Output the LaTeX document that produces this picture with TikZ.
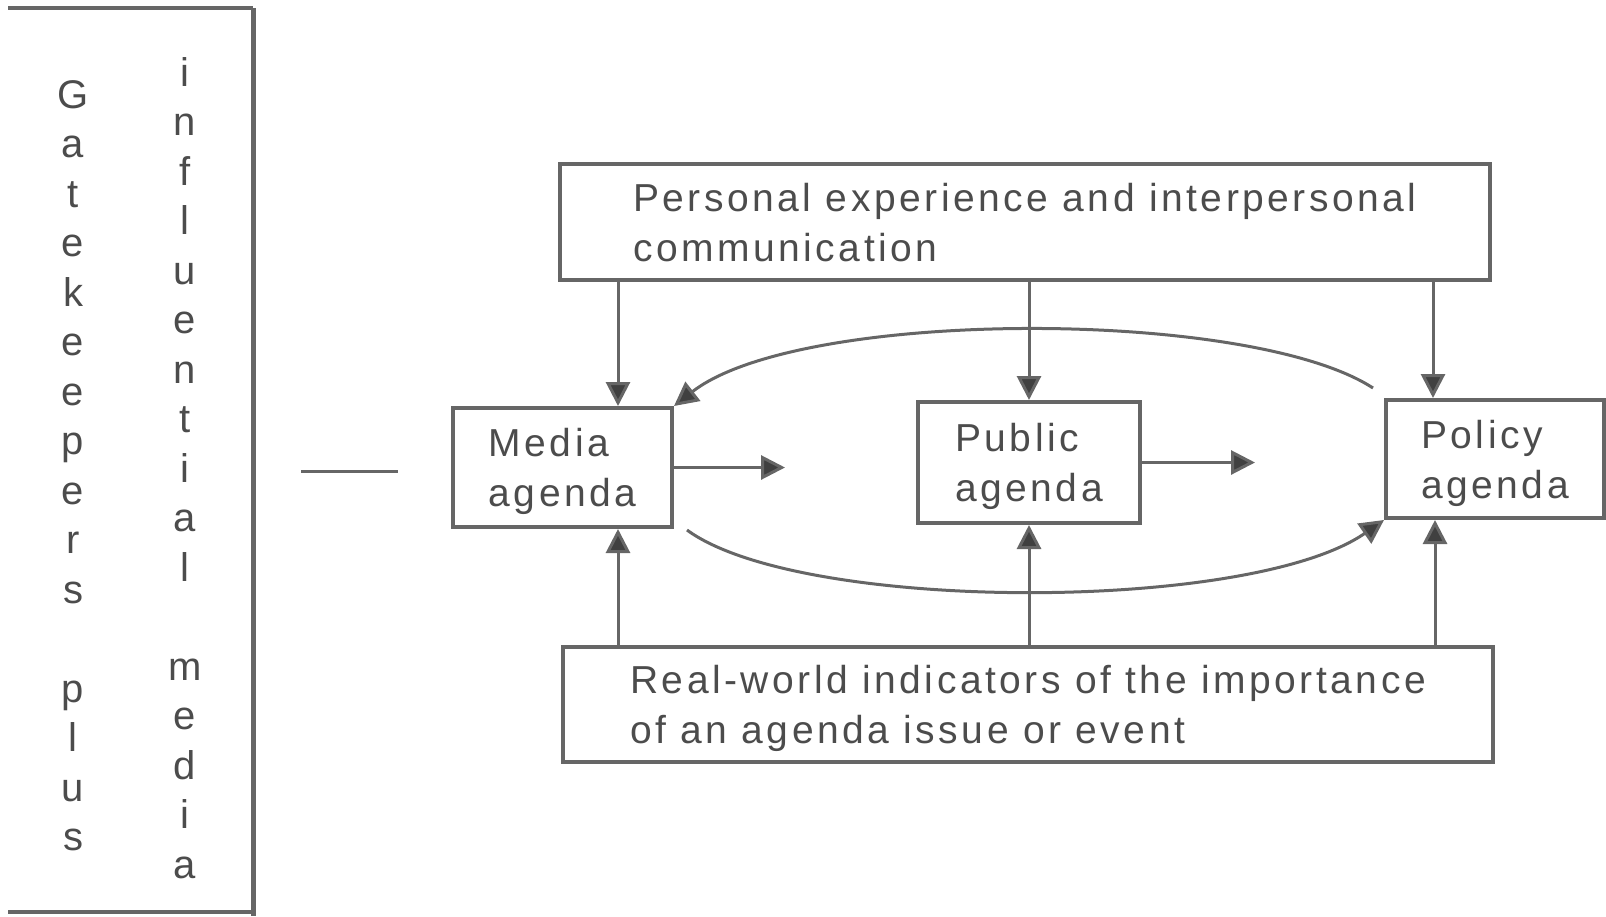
\documentclass[tikz,border=0pt]{standalone}
\usepackage{fontspec}
\setmainfont{Liberation Sans}[LetterSpace = 9]
\usepackage{tikz}
\usetikzlibrary{arrows.meta}

\begin{document}
\begin{tikzpicture}[x = 0.5pt, y = -0.5pt, line width = 1.5pt, draw = black!60, text = black!70,
  > = {Triangle[length = 12pt, width = 12pt, fill = black!75]},
  agendabox/.style = {draw, line width = 2pt, align = left, inner sep = 0, text depth = 0pt, font = \fontsize{19.5}{25}\selectfont},
  letters/.style = {anchor = north, align = center, inner sep = 0, font = \fontsize{20}{24.75}\selectfont}]
\useasboundingbox (0,0) rectangle (1606,916);
% side panel
\draw[line width = 2pt] (8,8) -- (253,8);
\draw[line width = 2.5pt] (253,8) -- (253,916);
\draw[line width = 2pt] (8,912) -- (253,912);
\node[letters] (gate) at (73,79) {G\\a\\t\\e\\k\\e\\e\\p\\e\\r\\s\\[24.75pt]p\\l\\u\\s};
\node[letters] (infl) at (185,56) {i\\n\\f\\l\\u\\e\\n\\t\\i\\a\\l\\[24.75pt]m\\e\\d\\i\\a};
\draw (301,471) -- (398,471);
% boxes
\node[agendabox, minimum width = 465pt, minimum height = 58pt] (personal) at (1025,222) {Personal experience and interpersonal\\communication};
\node[agendabox, minimum width = 465pt, minimum height = 57.5pt] (realworld) at (1028,704.5) {Real-world indicators of the importance\\of an agenda issue or event};
\node[agendabox, minimum width = 109.5pt, minimum height = 59.5pt] (media) at (562.5,467.5) {Media\\agenda};
\node[agendabox, minimum width = 111pt, minimum height = 60.5pt] (public) at (1029,462.5) {Public\\agenda};
\node[agendabox, minimum width = 109pt, minimum height = 59pt] (policy) at (1495,459) {Policy\\agenda};
% arrows
\draw [->] (personal.south -| 618,0) -- (media.north -| 618,0);
\draw [->] (personal.south -| 1029,0) -- (public.north -| 1029,0);
\draw [->] (personal.south -| 1433,0) -- (policy.north -| 1433,0);
\draw [->] (realworld.north -| 618,0) -- (media.south -| 618,0);
\draw [->] (realworld.north -| 1029,0) -- (public.south -| 1029,0);
\draw [->] (realworld.north -| 1435,0) -- (policy.south -| 1435,0);
\coordinate (mediaout) at (785,467.5);
\coordinate (publicout) at (1255,462.5);
\draw [->] (media.east) -- (mediaout);
\draw [->] (public.east) -- (publicout);
\coordinate (feedstart) at (1373,388);
\coordinate (linkstart) at (687,530);
\draw [->] (feedstart) .. controls (1250,308) and (800,308) .. (media.north east);
\draw [->] (linkstart) .. controls (800,613) and (1250,613) .. (policy.south west);
\end{tikzpicture}
\end{document}
